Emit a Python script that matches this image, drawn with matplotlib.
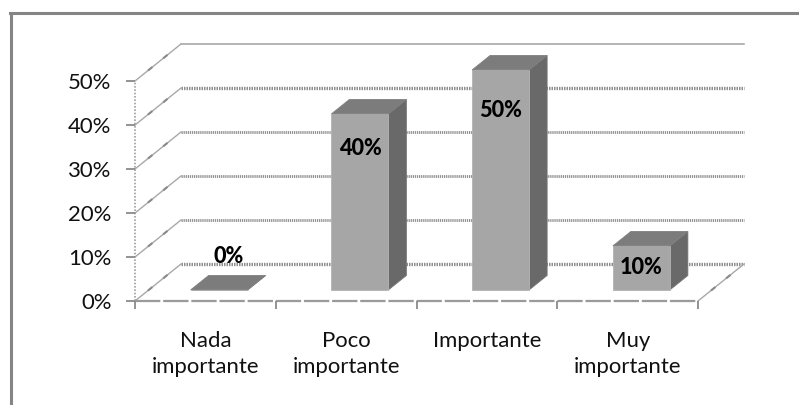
import matplotlib
matplotlib.use("Agg")
import matplotlib.pyplot as plt
from matplotlib.lines import Line2D
from matplotlib.patches import Polygon

categories = ["Nada\nimportante", "Poco\nimportante", "Importante", "Muy\nimportante"]
values = [0, 40, 50, 10]
value_labels = ["0%", "40%", "50%", "10%"]
y_ticks = [0, 10, 20, 30, 40, 50]
y_tick_labels = ["0%", "10%", "20%", "30%", "40%", "50%"]

# layout
W, H = 799, 405
L, R, B, T = 135, 698, 301, 81
DEPTH_X = 46 / ((R - L) / 4)          # category units
DEPTH_Y = 37 / ((B - T) / 50)         # percent units
BAR_W = 57 / ((R - L) / 4)
BAR_D0, BAR_D1 = 0.30, 0.69           # depth range of the bars
LABEL_DY = [7.6, -7.9, -9.3, -4.9]    # label centre relative to bar front top, percent units
LABEL_DX = [0.07, 0.01, 0.0, 0.0]     # label centre relative to bar centre, category units
FONT = ["Lato", "Open Sans", "DejaVu Sans"]
GRAY = "#8f8f8f"

fig = plt.figure(figsize=(W / 100, H / 100), dpi=100, facecolor="white")
ax = fig.add_axes([L / W, 1 - B / H, (R - L) / W, (B - T) / H])
ax.set_xlim(0, len(categories))
ax.set_ylim(0, 50)
ax.patch.set_visible(False)
for s in ax.spines.values():
    s.set_visible(False)


def p(x, y, d=0.0):
    """Oblique projection of category x, value y, depth d (0 front, 1 back)."""
    return (x + d * DEPTH_X, y + d * DEPTH_Y)


def line(pts, **kw):
    xs, ys = zip(*pts)
    kw.setdefault("clip_on", False)
    ax.plot(xs, ys, **kw)


# outer frame (only the top and left edges fall inside the picture)
fig.add_artist(Line2D([10.5 / W, 10.5 / W], [0, 1 - 12.5 / H], color="#858585", lw=2.2))
fig.add_artist(Line2D([9.5 / W, 1], [1 - 12.5 / H, 1 - 12.5 / H], color="#858585", lw=2.2))

n = len(categories)
# walls and grid
for v in y_ticks:
    solid = v == 50
    back = dict(color="#a0a0a0", lw=1.1) if solid else dict(color=GRAY, lw=2.4 if v in (0, 40) else 2.0, ls=(0, (0.45, 0.3)))
    line([p(0, v, 1), p(n, v, 1)], zorder=1, **back)
    line([p(0, v, 0), p(0, v, 1)], color="#a8a8a8", lw=1.0, zorder=1)
    # small bumps along the side-wall lines
    for d in (0.33, 0.66):
        line([p(0, v, d - 0.03), p(0, v, d + 0.03)], color="#8a8a8a", lw=1.5, zorder=1)
# vertical dotted front axis
line([p(0, 0), p(0, 50)], color="#a0a0a0", lw=1.2, ls=(0, (1, 1)), zorder=1)
# floor
line([p(0, 0), p(n, 0)], color="#9a9a9a", lw=1.6, ls=(0, (11.4, 1.27)), zorder=1, dash_capstyle="butt")
line([p(n, 0), p(n, 0, 1)], color="#a8a8a8", lw=1.0, zorder=1)
for d in (0.33, 0.66):
    line([p(n, 0, d - 0.03), p(n, 0, d + 0.03)], color="#8a8a8a", lw=1.5, zorder=1)

# bars
for i, v in enumerate(values):
    x0 = i + 0.5 - BAR_W / 2
    x1 = x0 + BAR_W
    front = [p(x0, 0, BAR_D0), p(x1, 0, BAR_D0), p(x1, v, BAR_D0), p(x0, v, BAR_D0)]
    side = [p(x1, 0, BAR_D0), p(x1, 0, BAR_D1), p(x1, v, BAR_D1), p(x1, v, BAR_D0)]
    top = [p(x0, v, BAR_D0), p(x1, v, BAR_D0), p(x1, v, BAR_D1), p(x0, v, BAR_D1)]
    ax.add_patch(Polygon(side, closed=True, fc="#696969", ec="#757575", lw=0.6, clip_on=False, zorder=3))
    ax.add_patch(Polygon(front, closed=True, fc="#a6a6a6", ec="#b4b4b4", lw=0.6, clip_on=False, zorder=3))
    ax.add_patch(Polygon(top, closed=True, fc="#7c7c7c", ec="#808080", lw=0.6, clip_on=False, zorder=3))
    lx, ly = p((x0 + x1) / 2 + LABEL_DX[i], v + LABEL_DY[i], BAR_D0)
    ax.text(lx, ly, value_labels[i], ha="center", va="center", fontsize=15.6,
            fontweight=900, family=FONT, color="black", zorder=5)

# axis ticks and labels
ax.set_yticks(y_ticks)
ax.set_yticklabels(y_tick_labels, family=FONT, fontsize=15.9, color="#111111")
ax.tick_params(axis="y", length=6.5, width=1.3, color="#8a8a8a", pad=10.5)
ax.set_xticks([i for i in range(n + 1)])
ax.set_xticklabels([""] * (n + 1))
ax.tick_params(axis="x", length=5.5, width=1.3, color="#8a8a8a")
for i, c in enumerate(categories):
    ax.annotate(c, xy=(i + 0.5, 0), xycoords="data", xytext=(0, -21.5), textcoords="offset points",
                ha="center", va="top", family=FONT, fontsize=15.9, color="#111111",
                linespacing=1.38, annotation_clip=False)

fig.savefig("out.png", dpi=100, facecolor="white")
